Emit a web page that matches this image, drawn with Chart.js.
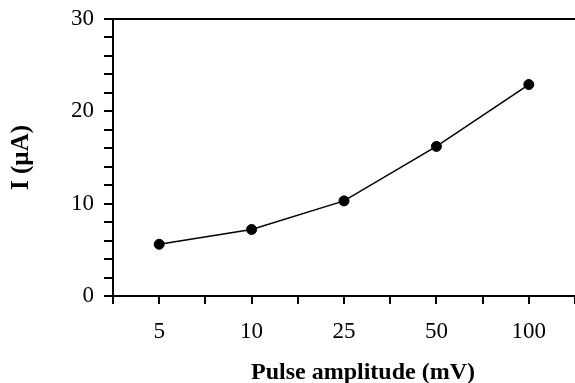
<!DOCTYPE html>
<html>
<head>
<meta charset="utf-8">
<script src="https://cdn.jsdelivr.net/npm/chart.js@4/dist/chart.umd.min.js"></script>
<style>
  html, body { margin: 0; padding: 0; background: #fff; }
  #wrap { width: 575px; height: 383px; }
</style>
</head>
<body>
<div id="wrap"><canvas id="pulseChart" width="575" height="383"></canvas></div>
<script>
// pulse amplitude categories and measured current
const amplitudes = ['5', '10', '25', '50', '100'];
const currents = [5.6, 7.2, 10.3, 16.2, 22.9];
const yTicks = [0, 10, 20, 30];

const serif = '"Liberation Serif", "Times New Roman", serif';
const xTitle = 'Pulse amplitude (mV)';

// top frame line + x title (sits a bit right of the axis centre in the original)
const frameExtras = {
    id: 'frameExtras',
    afterDraw(chart) {
        const { ctx, chartArea } = chart;
        ctx.save();
        ctx.strokeStyle = '#000';
        ctx.lineWidth = 2;
        ctx.beginPath();
        ctx.moveTo(chartArea.left - 1, chartArea.top);
        ctx.lineTo(chartArea.right + 2, chartArea.top);
        ctx.stroke();

        ctx.fillStyle = '#000';
        ctx.font = 'bold 24px ' + serif;
        ctx.textAlign = 'center';
        ctx.textBaseline = 'alphabetic';
        ctx.fillText(xTitle, (chartArea.left + chartArea.right) / 2 + 19, 379);
        ctx.restore();
    }
};

const ctx = document.getElementById('pulseChart').getContext('2d');
new Chart(ctx, {
    type: 'line',
    data: {
        datasets: [{
            data: currents.map((v, i) => ({ x: i, y: v })),
            borderColor: '#000',
            borderWidth: 1.5,
            backgroundColor: '#000',
            pointBackgroundColor: '#000',
            pointBorderColor: '#000',
            pointRadius: 5,
            pointBorderWidth: 1,
            tension: 0,
            fill: false,
            clip: false
        }]
    },
    options: {
        responsive: false,
        animation: false,
        devicePixelRatio: 1,
        layout: { autoPadding: false, padding: { top: 19, right: 0, left: 0, bottom: 0 } },
        plugins: {
            legend: { display: false },
            tooltip: { enabled: false }
        },
        scales: {
            x: {
                type: 'linear',
                min: -0.5,
                max: amplitudes.length - 0.5,
                afterFit: (s) => { s.height = 87; s.paddingLeft = 0; s.paddingRight = 0; },
                border: { color: '#000', width: 2 },
                grid: { drawOnChartArea: false, drawTicks: true, tickLength: 8, color: '#000', lineWidth: 2 },
                ticks: {
                    stepSize: 0.5,
                    autoSkip: false,
                    maxRotation: 0,
                    color: '#000',
                    padding: 14,
                    font: { family: serif, size: 23 },
                    callback: (v) => Number.isInteger(v) ? amplitudes[v] : ''
                }
            },
            y: {
                min: 0,
                max: 30,
                afterFit: (s) => { s.width = 113; s.paddingTop = 0; s.paddingBottom = 0; },
                border: { color: '#000', width: 2 },
                grid: { drawOnChartArea: false, drawTicks: true, tickLength: 9, color: '#000', lineWidth: 2 },
                ticks: {
                    stepSize: 2,
                    autoSkip: false,
                    color: '#000',
                    padding: 10,
                    font: { family: serif, size: 23 },
                    callback: (v) => yTicks.includes(v) ? String(v) : ''
                },
                title: {
                    display: true,
                    text: 'I (µA)',
                    color: '#000',
                    font: { family: serif, size: 25, weight: 'bold', lineHeight: 1 },
                    padding: { top: 9, bottom: 0 }
                }
            }
        }
    },
    plugins: [frameExtras]
});
</script>
</body>
</html>
